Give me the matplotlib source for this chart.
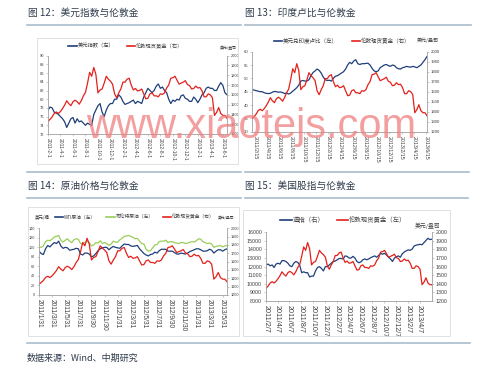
import matplotlib
matplotlib.use("Agg")
import matplotlib.pyplot as plt
from matplotlib.lines import Line2D
from matplotlib.patches import Rectangle
import numpy as np

plt.rcParams['font.family'] = ['Liberation Sans', 'Noto Sans CJK SC', 'DejaVu Sans']
CJK = ['Noto Sans CJK SC', 'DejaVu Sans']

# ---------------- data (3 readings per month, from 2011-01-31) ----------------
gold = [1330,
        1350, 1375, 1410, 1425, 1410, 1430, 1460, 1495, 1540, 1510, 1490, 1530,
        1545, 1530, 1505, 1540, 1590, 1625, 1720, 1830, 1790, 1880, 1810, 1620,
        1650, 1660, 1720, 1790, 1760, 1740, 1710, 1610, 1570,
        1620, 1660, 1730, 1730, 1760, 1770, 1700, 1650, 1665, 1640, 1645, 1660,
        1610, 1560, 1565, 1610, 1620, 1590, 1590, 1580, 1610, 1605, 1620, 1670,
        1700, 1770, 1775, 1790, 1750, 1710, 1720, 1730, 1745, 1705, 1695, 1660,
        1665, 1690, 1670, 1675, 1640, 1580, 1580, 1610, 1600, 1570, 1390, 1420,
        1470, 1410, 1390, 1390, 1360]

dxy = [77.5,
       78.2, 78.0, 77.0, 76.8, 76.5, 76.0, 75.5, 74.8, 73.5, 74.5, 75.5, 75.8,
       74.5, 75.5, 74.8, 75.0, 74.5, 74.0, 74.5, 74.2, 74.0, 76.5, 77.5, 78.5,
       79.0, 77.0, 76.0, 77.5, 78.5, 79.0, 79.0, 80.0, 80.0,
       81.0, 80.5, 79.5, 78.8, 79.0, 79.2, 79.5, 79.8, 79.0, 79.5, 79.3, 79.0,
       80.5, 81.5, 82.5, 82.0, 81.5, 82.0, 83.0, 83.5, 82.5, 82.8, 82.0, 81.5,
       80.0, 79.0, 79.8, 79.5, 80.0, 79.8, 80.8, 81.0, 80.2, 80.0, 79.5, 79.5,
       80.5, 80.0, 79.2, 80.0, 81.0, 81.5, 82.5, 82.8, 82.5, 82.5, 82.0, 82.0,
       83.0, 83.8, 83.2, 81.5, 81.0]

inr = [45.8,
       45.6, 45.4, 45.2, 45.0, 45.0, 44.6, 44.4, 44.3, 44.4, 44.8, 45.1, 45.0,
       44.8, 44.9, 44.7, 44.3, 44.5, 44.1, 44.5, 45.2, 45.8, 46.5, 47.5, 49.0,
       49.2, 49.0, 49.0, 49.5, 51.0, 52.2, 52.8, 53.5, 53.0,
       52.0, 50.5, 49.5, 49.2, 49.3, 49.0, 50.0, 50.8, 51.0, 51.5, 52.0, 52.5,
       53.5, 55.0, 56.0, 55.5, 56.5, 57.0, 55.5, 55.2, 55.5, 55.5, 55.6, 55.7,
       55.0, 53.8, 52.8, 52.5, 52.8, 54.0, 54.5, 55.0, 55.2, 54.8, 54.5, 55.0,
       54.8, 54.0, 53.6, 53.5, 54.0, 54.2, 54.5, 54.3, 54.2, 54.5, 54.3, 54.0,
       54.5, 55.0, 56.0, 57.0, 58.2]

wti = [92,
       87, 85, 97, 104, 101, 106, 110, 108, 113, 103, 98, 100,
       99, 94, 95, 96, 98, 97, 86, 84, 88, 88, 86, 80,
       82, 87, 93, 97, 99, 100, 100, 95, 99,
       102, 100, 99, 98, 103, 107, 106, 106, 103, 102, 103, 104,
       97, 92, 87, 84, 82, 85, 86, 90, 88, 93, 96, 96,
       96, 92, 92, 92, 89, 86, 86, 88, 87, 86, 88, 91,
       93, 95, 97, 97, 95, 92, 92, 93, 96, 94, 88, 92,
       95, 95, 92, 95, 97]

brent = [101,
         100, 103, 112, 115, 114, 117, 122, 123, 125, 115, 111, 115,
         118, 113, 110, 116, 118, 117, 108, 107, 111, 113, 110, 103,
         105, 110, 109, 114, 108, 110, 108, 104, 107,
         113, 111, 111, 116, 119, 123, 124, 125, 123, 121, 118, 119,
         113, 108, 107, 96, 92, 93, 99, 105, 106, 112, 113, 113,
         115, 110, 112, 112, 110, 109, 108, 110, 110, 108, 109, 111,
         112, 111, 114, 118, 117, 112, 110, 108, 109, 107, 100, 102,
         103, 104, 101, 103, 104]

dow = [12000,
       12200, 12300, 12100, 12200, 11900, 12300, 12400, 12300, 12700, 12700, 12600, 12400,
       12100, 12000, 12400, 12600, 12500, 12150, 11300, 11400, 11300, 11300, 10800, 10900,
       10900, 11500, 11900, 12000, 11800, 11500, 12000, 12000, 12200,
       12400, 12600, 12650, 12800, 12950, 12950, 12900, 13250, 13200, 13000, 13000, 13200,
       13000, 12600, 12450, 12550, 12800, 12900, 12800, 12900, 13050, 13150, 13250, 13100,
       13300, 13550, 13450, 13550, 13350, 13100, 12900, 12600, 13000, 13150, 13250, 13100,
       13500, 13700, 13850, 13950, 13900, 14050, 14400, 14500, 14550, 14600, 14550, 14800,
       15050, 15300, 15150, 15200, 15100]

labels_p1 = ["2011-2-1", "2011-4-1", "2011-6-1", "2011-8-1", "2011-10-1", "2011-12-1",
             "2012-2-1", "2012-4-1", "2012-6-1", "2012-8-1", "2012-10-1", "2012-12-1",
             "2013-2-1", "2013-4-1", "2013-6-1"]
labels_p2 = ["2011/2/15", "2011/4/15", "2011/6/15", "2011/8/15", "2011/10/15", "2011/12/15",
             "2012/2/15", "2012/4/15", "2012/6/15", "2012/8/15", "2012/10/15", "2012/12/15",
             "2013/2/15", "2013/4/15", "2013/6/15"]
labels_p3 = ["2011/1/31", "2011/3/31", "2011/5/31", "2011/7/31", "2011/9/30", "2011/11/30",
             "2012/1/31", "2012/3/31", "2012/5/31", "2012/7/31", "2012/9/30", "2012/11/30",
             "2013/1/31", "2013/3/31", "2013/5/31"]
labels_p4 = ["2011/2/7", "2011/4/7", "2011/6/7", "2011/8/7", "2011/10/7", "2011/12/7",
             "2012/2/7", "2012/4/7", "2012/6/7", "2012/8/7", "2012/10/7", "2012/12/7",
             "2013/2/7", "2013/4/7"]

t = np.arange(len(gold)) / 3.0   # months since 2011-01-31

# ---------------- figure ----------------
W, H = 499, 372
fig = plt.figure(figsize=(W / 100, H / 100), dpi=100)
fig.patch.set_facecolor('white')

BLUE = '#1F3F7A'
RED = '#E3211C'
GREEN = '#9ACD5A'
AX = '#a6a6a6'
TXT = '#404040'
TITLE = '#2f3b4c'
RULE = '#a9bccb'


def fx(x):
    return x / W


def fy(y):
    return 1 - y / H


def add_ax(x0, y0, x1, y1):
    return fig.add_axes([fx(x0), fy(y1), (x1 - x0) / W, (y1 - y0) / H])


def hline(y, x0, x1, color=RULE, lw=1.2):
    fig.add_artist(Line2D([fx(x0), fx(x1)], [fy(y), fy(y)], color=color, lw=lw,
                          transform=fig.transFigure))


def box(x0, y0, x1, y1):
    fig.add_artist(Rectangle((fx(x0), fy(y1)), (x1 - x0) / W, (y1 - y0) / H,
                             transform=fig.transFigure, fill=False,
                             edgecolor='#dcdcdc', lw=0.6))


def ctext(x, y, s, fs, color=TXT, **kw):
    fig.text(fx(x), fy(y), s, fontsize=fs, color=color, va='center', ha='left',
             family=CJK, **kw)


def leg(x0, x1, y, color, text, fs):
    fig.add_artist(Line2D([fx(x0), fx(x1)], [fy(y), fy(y)], color=color, lw=1.2,
                          transform=fig.transFigure))
    ctext(x1 + 1, y, text, fs)


def style(ax, ax2, xlim, xt, xl, fsx, ylim1, yt1, ylim2, yt2, fsy):
    ax.set_xlim(*xlim)
    ax.set_ylim(*ylim1)
    ax2.set_ylim(*ylim2)
    ax.set_yticks(yt1)
    ax.set_yticklabels([str(v) for v in yt1])
    ax2.set_yticks(yt2)
    ax2.set_yticklabels([str(v) for v in yt2])
    ax.set_xticks(xt)
    ax.set_xticklabels(xl, rotation=-90, fontsize=fsx, color=TXT)
    for a in (ax, ax2):
        a.spines['top'].set_visible(False)
        for s in ('left', 'right', 'bottom'):
            a.spines[s].set_color(AX)
            a.spines[s].set_linewidth(0.5)
        a.tick_params(axis='y', labelsize=fsy, labelcolor=TXT, color=AX,
                      length=1.5, width=0.4, pad=1.2)
        a.patch.set_alpha(0)
    ax.tick_params(axis='x', length=1.5, width=0.4, color=AX, pad=1.5)


# ---------- titles and rules ----------
ctext(28, 13, "图 12：美元指数与伦敦金", 7, TITLE)
ctext(245, 13, "图 13：印度卢比与伦敦金", 7, TITLE)
ctext(28, 186, "图 14：原油价格与伦敦金", 7, TITLE)
ctext(245, 186, "图 15：美国股指与伦敦金", 7, TITLE)
hline(25, 27, 241)
hline(25, 245, 471)
hline(172, 27, 241)
hline(172, 245, 469)
hline(198, 27, 241)
hline(198, 245, 468)
hline(343, 27, 470)
ctext(27, 358, "数据来源：Wind、中期研究", 6.5, TITLE)

box(37, 38, 238, 164)
box(28, 207, 239, 336)
box(243, 210, 450, 336)

# ---------- panel 1 ----------
a1 = add_ax(48, 55.7, 227, 134)
b1 = a1.twinx()
a1.plot(t, dxy, color=BLUE, lw=0.9)
b1.plot(t, gold, color=RED, lw=0.9)
style(a1, b1, (0, 28.67), np.arange(0, 29, 2), labels_p1, 3.6,
      (72, 90), list(range(72, 91, 2)), (1200, 2000), list(range(1200, 2001, 100)), 2.9)
leg(68, 77, 45.5, BLUE, "美元指数（左）", 3.8)
leg(127, 135, 45.5, RED, "伦敦现货黄金（右）", 3.8)
ctext(220, 48, "美元/盎司", 2.8)

# ---------- panel 2 ----------
a2 = add_ax(252, 51.7, 427, 131.7)
b2 = a2.twinx()
a2.plot(t, inr, color=BLUE, lw=0.9)
b2.plot(t, gold, color=RED, lw=0.9)
style(a2, b2, (0, 28.67), np.arange(0.5, 29, 2), labels_p2, 3.8,
      (30, 60), list(range(30, 61, 5)), (1200, 2000), list(range(1200, 2001, 100)), 3.1)
leg(274, 282, 40.7, BLUE, "美元兑印度卢比（左）", 4)
leg(352, 360, 40.7, RED, "伦敦现货黄金（右）", 4)
ctext(417, 40.7, "美元/盎司", 3.6)

# ---------- panel 3 ----------
a3 = add_ax(39, 228.3, 227, 295)
b3 = a3.twinx()
a3.plot(t, brent, color=GREEN, lw=0.9)
a3.plot(t, wti, color=BLUE, lw=0.9)
b3.plot(t, gold, color=RED, lw=0.9)
style(a3, b3, (0, 28.67), np.arange(0, 29, 2), labels_p3, 4.8,
      (0, 140), list(range(0, 141, 20)), (1200, 2000), list(range(1200, 2001, 100)), 2.7)
ctext(35, 217.5, "美元/桶", 3.2)
leg(55, 63, 217, BLUE, "WTI原油（左）", 3.4)
leg(106, 115, 217, GREEN, "布伦特原油（左）", 3.4)
leg(163, 171, 217, RED, "伦敦现货黄金（右）", 3.4)
ctext(218, 218, "美元/盎司", 2.7)

# ---------- panel 4 ----------
a4 = add_ax(265.7, 232.3, 431.7, 301)
b4 = a4.twinx()
a4.plot(t, dow, color=BLUE, lw=0.9)
b4.plot(t, gold, color=RED, lw=0.9)
style(a4, b4, (0.25, 28.3), np.arange(0.25, 27, 2), labels_p4, 5.2,
      (8000, 16000), list(range(8000, 16001, 1000)), (1200, 2000), list(range(1200, 2001, 100)), 3.8)
leg(280, 292, 220, BLUE, "道指（右）", 4.6)
leg(337, 348, 220, RED, "伦敦现货黄金（左）", 4.6)
ctext(415, 225.7, "美元/盎司", 4.2)

# ---------- watermark ----------
fig.text(fx(86), fy(138), "www.xiaotejs.com", fontsize=30, family='Liberation Sans',
         color='#ef7f7f', alpha=0.75, va='baseline', ha='left', zorder=100)

fig.savefig("out.png", dpi=100, facecolor='white')
